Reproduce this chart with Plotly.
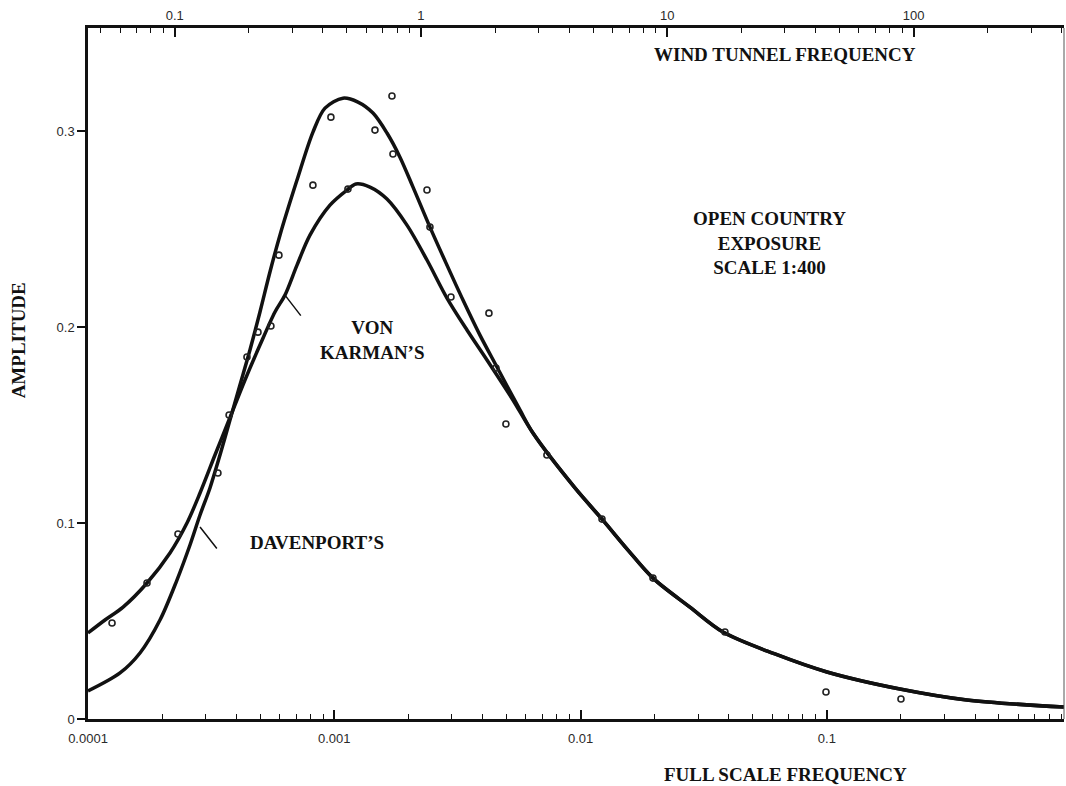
import numpy as np
import plotly.graph_objects as go

# ---------------- data ----------------
# measured points: full scale frequency (Hz) and amplitude
pts_freq = [1.252e-4, 1.736e-4, 2.319e-4, 3.37e-4, 3.74e-4, 4.42e-4, 4.90e-4, 5.53e-4,
            5.96e-4, 8.19e-4, 9.69e-4, 1.136e-3, 1.463e-3, 1.715e-3, 1.731e-3, 2.379e-3,
            2.446e-3, 2.977e-3, 4.246e-3, 4.534e-3, 4.977e-3, 7.30e-3, 1.222e-2, 1.968e-2,
            3.858e-2, 0.0992, 0.200]
pts_amp = [0.049, 0.0694, 0.0944, 0.1255, 0.1551, 0.1847, 0.1974, 0.2005,
           0.2367, 0.2724, 0.3071, 0.2704, 0.3005, 0.3179, 0.2883, 0.2699,
           0.2510, 0.2153, 0.2071, 0.1791, 0.1505, 0.1347, 0.1020, 0.0719,
           0.0444, 0.0138, 0.0102]

# shared high-frequency tail of both spectra
tail_freq = [7.304e-3, 9.49e-3, 1.222e-2, 1.558e-2, 1.968e-2, 2.780e-2, 3.786e-2,
             6.155e-2, 0.1001, 0.198, 0.3705, 0.918]
tail_amp = [0.1347, 0.1179, 0.1020, 0.0862, 0.0719, 0.0571, 0.0444,
            0.0332, 0.0240, 0.0153, 0.0097, 0.0061]

# Davenport's spectrum (low / peak part)
dav_freq = [1.00e-4, 1.349e-4, 1.626e-4, 1.960e-4, 2.297e-4, 2.595e-4, 2.850e-4, 3.128e-4,
            3.435e-4, 3.771e-4, 4.140e-4, 4.546e-4, 4.992e-4, 5.48e-4, 6.018e-4, 7.058e-4,
            8.193e-4, 9.168e-4, 1.0846e-3, 1.248e-3, 1.436e-3, 1.637e-3, 1.848e-3, 2.088e-3,
            2.446e-3, 2.868e-3, 3.331e-3, 3.904e-3, 4.577e-3, 5.675e-3, 6.408e-3]
dav_amp = [0.0143, 0.0235, 0.0337, 0.0505, 0.0709, 0.0888, 0.1041, 0.1179,
           0.1347, 0.1526, 0.1704, 0.1883, 0.2077, 0.2281, 0.2469, 0.2750,
           0.2995, 0.3117, 0.3168, 0.3148, 0.3092, 0.2990, 0.2867, 0.2714,
           0.2510, 0.2316, 0.2138, 0.1959, 0.1796, 0.1577, 0.1459]

# Von Karman's spectrum (low / peak part)
vk_freq = [1.00e-4, 1.172e-4, 1.388e-4, 1.736e-4, 2.152e-4, 2.523e-4, 2.850e-4, 3.278e-4,
           3.737e-4, 4.339e-4, 4.992e-4, 5.743e-4, 6.306e-4, 7.058e-4, 7.966e-4, 9.605e-4,
           1.126e-3, 1.225e-3, 1.396e-3, 1.637e-3, 1.973e-3, 2.379e-3, 2.868e-3, 3.458e-3,
           4.169e-3, 5.314e-3, 6.408e-3]
vk_amp = [0.0439, 0.0505, 0.0571, 0.0694, 0.0847, 0.1000, 0.1153, 0.1347,
          0.1526, 0.1730, 0.1908, 0.2077, 0.2163, 0.2316, 0.2469, 0.2622,
          0.2699, 0.2730, 0.2714, 0.2653, 0.2520, 0.2342, 0.2148, 0.1985,
          0.1832, 0.1628, 0.1459]

bottom_ticks = [1e-4, 1e-3, 1e-2, 1e-1]
bottom_labels = ["0.0001", "0.001", "0.01", "0.1"]
top_ticks = [0.1, 1, 10, 100]
top_labels = ["0.1", "1", "10", "100"]
y_ticks = [0, 0.1, 0.2, 0.3]
y_labels = ["0", "0.1", "0.2", "0.3"]

# ---------------- figure ----------------
INK = "#111111"
SERIF = "Liberation Serif"
TICKFONT = dict(family="Liberation Sans", size=13, color="#2a2a2a")

x_range = [-4.0, -0.037]
scale_shift = 2.648  # log10 ratio between wind tunnel and full scale frequency axes
x2_range = [x_range[0] + scale_shift, x_range[1] + scale_shift]

fig = go.Figure()

fig.add_trace(go.Scatter(
    x=dav_freq + tail_freq[1:], y=dav_amp + tail_amp[1:], mode="lines",
    line=dict(color=INK, width=3.5, shape="spline", smoothing=0.9),
    name="Davenport's", hoverinfo="skip"))
fig.add_trace(go.Scatter(
    x=vk_freq + tail_freq[1:], y=vk_amp + tail_amp[1:], mode="lines",
    line=dict(color=INK, width=3.5, shape="spline", smoothing=0.9),
    name="Von Karman's", hoverinfo="skip"))
fig.add_trace(go.Scatter(
    x=pts_freq, y=pts_amp, mode="markers",
    marker=dict(symbol="circle-open", size=6, color="#222222", line=dict(width=1.6)),
    name="measured"))
# carrier for the top (wind tunnel) axis
fig.add_trace(go.Scatter(
    x=top_ticks, y=[None] * len(top_ticks), xaxis="x2", mode="markers",
    marker=dict(opacity=0), showlegend=False, hoverinfo="skip"))

minor_bottom = [m * 10.0 ** e for e in range(-4, 0) for m in range(2, 10)]
minor_top = [m * 10.0 ** e for e in range(-2, 3) for m in range(2, 10)]

fig.update_layout(
    width=1066, height=786,
    margin=dict(l=88, r=2, t=28, b=67),
    paper_bgcolor="white", plot_bgcolor="white",
    showlegend=False,
    xaxis=dict(
        type="log", range=x_range,
        tickvals=bottom_ticks, ticktext=bottom_labels,
        ticks="inside", ticklen=9, tickwidth=1.5, tickcolor=INK,
        minor=dict(tickvals=minor_bottom, ticks="inside", ticklen=5,
                   tickwidth=1.2, tickcolor=INK, showgrid=False),
        showline=True, linecolor=INK, linewidth=2.5,
        showgrid=False, zeroline=False, tickfont=TICKFONT, ticklabelstandoff=6,
    ),
    xaxis2=dict(
        type="log", range=x2_range, overlaying="x", side="top", anchor="y",
        tickvals=top_ticks, ticktext=top_labels,
        ticks="inside", ticklen=9, tickwidth=1.5, tickcolor=INK,
        minor=dict(tickvals=minor_top, ticks="inside", ticklen=5,
                   tickwidth=1.2, tickcolor=INK, showgrid=False),
        showline=True, linecolor=INK, linewidth=2.5,
        showgrid=False, zeroline=False, tickfont=TICKFONT,
    ),
    yaxis=dict(
        range=[0, 0.3526],
        tickvals=y_ticks, ticktext=y_labels,
        ticks="outside", ticklen=8, tickwidth=1.5, tickcolor=INK,
        showline=True, linecolor=INK, linewidth=2.5,
        showgrid=False, zeroline=False, tickfont=TICKFONT,
    ),
)

# thin right border
fig.add_shape(type="line", xref="paper", yref="paper", x0=1, x1=1, y0=0, y1=1,
              line=dict(color="#555555", width=1))

lab = dict(family=SERIF, size=19, color=INK)


def txt(s, x, y, **kw):
    fig.add_annotation(text="<b>" + s + "</b>", x=x, y=y, xref="paper", yref="paper",
                       showarrow=False, font=lab, xanchor="center", yanchor="middle", **kw)


txt("WIND TUNNEL FREQUENCY", 0.714, 0.961)
txt("OPEN COUNTRY<br>EXPOSURE<br>SCALE 1:400", 0.698, 0.689)
txt("VON<br>KARMAN’S", 0.291, 0.548)
txt("DAVENPORT’S", 0.235, 0.255)
txt("AMPLITUDE", -0.0717, 0.548, textangle=-90)
txt("FULL SCALE FREQUENCY", 0.715, -0.081)

# pointer lines from labels to the curves
fig.add_annotation(x=np.log10(6.306e-4), y=0.2163, xref="x", yref="y", text="",
                   showarrow=True, arrowhead=0, arrowwidth=1.5, arrowcolor=INK,
                   ax=17, ay=22, standoff=0)
fig.add_annotation(x=np.log10(2.85e-4), y=0.098, xref="x", yref="y", text="",
                   showarrow=True, arrowhead=0, arrowwidth=1.5, arrowcolor=INK,
                   ax=18, ay=23, standoff=0)

fig.write_html("out.html")
